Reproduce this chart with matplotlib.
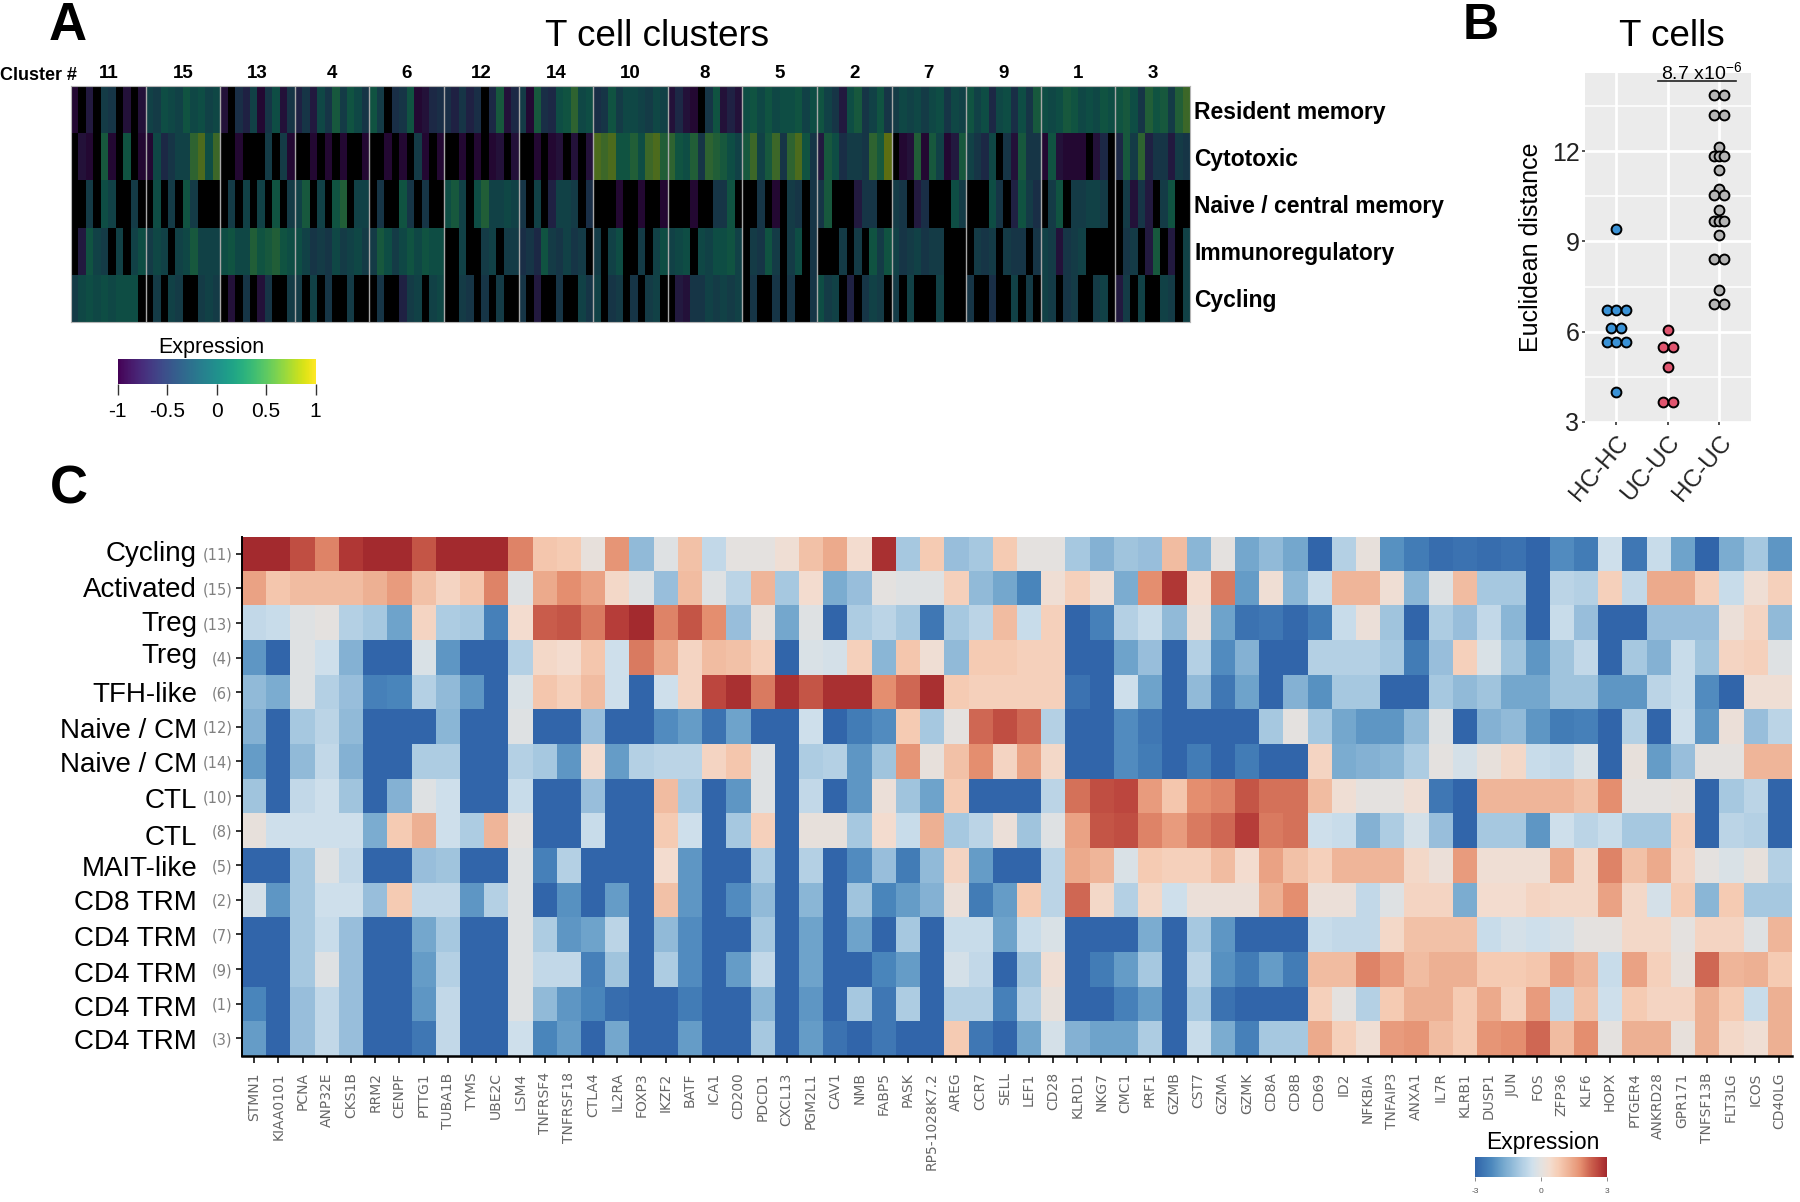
import numpy as np
import matplotlib
matplotlib.use("Agg")
import matplotlib.pyplot as plt
from matplotlib.colors import LinearSegmentedColormap, Normalize
from matplotlib.cm import ScalarMappable
from matplotlib.lines import Line2D
from matplotlib.transforms import blended_transform_factory

plt.rcParams['font.family'] = ['Liberation Sans', 'DejaVu Sans']
plt.rcParams['mathtext.default'] = 'regular'

W, H = 1800, 1202

# ---------- Panel A data (tenths of expression; -20 = no signal, drawn black) ----------
cluster_ids = ['11', '15', '13', '4', '6', '12', '14', '10', '8', '5', '2', '7', '9', '1', '3']
signatures = ['Resident memory', 'Cytotoxic', 'Naive / central memory', 'Immunoregulatory', 'Cycling']

resident_memory = [
    [-9,-20,-7,-20,-2,-3,-20,-8,-20,-8], [-1,-2,1,0,-1,2,0,1,-1,0], [-8,-20,-4,-6,-1,-9,-3,1,-8,-3],
    [-6,-3,-7,0,-3,3,-2,2,0,-3], [2,-2,-20,-4,-3,2,-9,-8,-5,-4], [-4,-6,-3,-6,-4,-20,-5,3,-8,-5],
    [-2,-9,3,-4,-5,1,2,5,0,1], [-4,-3,2,-2,0,0,-1,-2,0,-1], [-8,-5,-8,-9,-20,-3,2,-8,-6,-8],
    [1,2,0,2,0,1,1,2,-1,1], [2,-1,-3,-7,1,3,-3,-1,2,-3], [-2,0,-1,0,-2,0,1,-3,0,-1],
    [2,-1,1,-5,0,1,-4,1,-3,3], [1,0,1,3,2,0,1,0,2,1], [2,3,1,-3,4,2,3,-2,4,6]]
cytotoxic = [
    [-20,-8,-9,-20,3,-9,-20,2,-20,-9], [-9,0,-5,-3,-1,-1,5,7,1,6], [-20,-20,-9,-20,-20,-20,-2,-20,-2,-9],
    [-20,-20,-9,-20,-9,-20,-9,-20,-20,-9], [-20,-20,-9,-20,-9,-20,-2,-9,-20,-9], [-20,-20,-9,-20,-9,-20,-9,-8,-20,-8],
    [-20,-20,-9,-20,-9,-8,-20,-8,-20,-8], [7,6,7,2,2,4,1,6,7,4], [5,2,1,4,-3,5,4,3,1,-1],
    [3,6,-1,3,6,-3,5,7,2,-3], [-7,3,1,-4,-2,-2,-3,5,3,8], [-20,-9,-8,4,-9,3,-1,-9,-7,3],
    [-1,-3,-5,0,-20,-3,-8,3,-3,-3], [-9,2,-8,-9,-9,-9,-20,-8,-5,-20], [-5,3,-2,5,-6,-3,-3,-7,-2,-3]]
naive_cm = [
    [-20,-20,-2,-20,1,-1,-20,-20,-2,-20], [-20,1,-20,-2,-20,2,-2,-20,-20,-20], [-20,-2,-20,-1,-20,-1,-20,2,-20,-2],
    [-1,3,-20,-1,-20,2,4,-20,-1,-1], [-20,-3,-20,-20,2,-3,-20,-3,-20,-20], [1,3,-1,-20,1,4,-1,-1,0,-1],
    [-3,-20,-1,-20,-6,-1,-1,-2,-20,-4], [-20,-20,-20,-9,-20,-20,-9,-20,-20,-9], [-20,-20,-20,-9,-20,-20,-3,-3,2,-20],
    [-20,-20,-3,-20,-9,-20,-2,-3,-20,-3], [-3,3,-20,-20,-20,-7,-3,-3,-20,-20], [-2,-3,-20,-7,-4,-20,-20,-20,1,-2],
    [-20,-20,-20,1,-3,-20,-6,2,-2,-4], [-20,-2,2,-20,-2,-2,-1,-1,-2,-20], [-20,-2,-8,-3,-7,-20,-2,2,-20,-20]]
immunoregulatory = [
    [-20,-7,2,-1,-2,-20,-1,-20,-1,1], [-2,0,-1,-20,-1,0,3,-1,-1,-1], [1,2,0,0,4,2,3,4,2,1],
    [1,-1,-3,-2,-3,0,-2,-1,0,-2], [-2,3,1,-2,0,2,0,2,1,1], [-20,-20,-1,-20,-20,-2,-1,-20,-2,-2],
    [-4,-3,-5,2,-2,-3,-1,-3,-2,-20], [-2,-20,-1,1,-20,-20,-2,-20,-1,1], [-1,0,1,-20,0,-1,1,1,2,-1],
    [-20,-2,-3,2,-2,-20,-2,1,-20,-3], [-20,-20,-20,-2,-20,-2,-20,2,-2,2], [-1,-3,-2,-1,-3,-2,-2,-20,-20,-20],
    [-20,-2,-3,-2,-20,-2,-3,-3,-20,-3], [-1,-2,-8,-3,-2,-1,-20,-20,-20,-20], [-20,-3,-2,-20,-7,3,-20,-7,-20,-1]]
cycling_sig = [
    [-2,0,1,0,1,0,1,1,1,-20], [-20,-2,-20,-1,-2,-20,-20,-2,-1,-2], [-20,-8,-20,-3,-20,-8,-3,-20,-20,-2],
    [-2,-20,-1,-20,-3,-20,-20,-2,-20,-20], [-20,-3,-20,-20,-6,-2,-1,-20,-1,0], [-20,-20,-2,-3,-20,-3,-20,-2,-20,-20],
    [-3,-20,-7,-20,-20,-3,-20,-20,-1,-3], [-1,-20,-3,-2,-20,-3,-20,-2,-1,-20], [-20,-7,-8,-3,-3,-1,-2,-1,-2,-1],
    [-20,-3,-20,-20,-3,-20,-3,-20,-20,-3], [1,-2,-1,-20,-6,-20,-3,-1,-2,-20], [-2,-20,-1,-20,-20,-20,-1,-20,-20,-20],
    [-3,-20,-20,-4,-20,-20,-1,-20,-2,-20], [-1,-2,-20,-3,-2,-20,-20,-2,-1,-20], [-7,-2,-20,-1,-20,-20,-1,-2,-20,-1]]

# ---------- Panel B data ----------
groups = ['HC-HC', 'UC-UC', 'HC-UC']
hc_hc_y = [9.42, 6.71, 6.71, 6.71, 6.13, 6.13, 5.65, 5.65, 5.65, 4.0]
hc_hc_off = [0, -0.19, 0, 0.19, -0.1, 0.1, -0.19, 0, 0.19, 0]
uc_uc_y = [6.05, 5.49, 5.49, 4.82, 3.67, 3.67]
uc_uc_off = [0, -0.1, 0.1, 0, -0.1, 0.1]
hc_uc_y = [13.88, 13.88, 13.2, 13.2, 12.14, 11.83, 11.83, 11.83, 11.37, 10.76, 10.55, 10.55,
           10.04, 9.67, 9.67, 9.67, 9.2, 8.43, 8.43, 7.4, 6.93, 6.93]
hc_uc_off = [-0.1, 0.1, -0.1, 0.1, 0, -0.1, 0, 0.1, 0, 0, -0.1, 0.1,
             0, -0.1, 0, 0.1, 0, -0.1, 0.1, 0, -0.1, 0.1]

# ---------- Panel C data ----------
genes = ['STMN1','KIAA0101','PCNA','ANP32E','CKS1B','RRM2','CENPF','PTTG1','TUBA1B','TYMS','UBE2C','LSM4',
         'TNFRSF4','TNFRSF18','CTLA4','IL2RA','FOXP3','IKZF2','BATF','ICA1','CD200','PDCD1','CXCL13','PGM2L1',
         'CAV1','NMB','FABP5','PASK','RP5-1028K7.2','AREG','CCR7','SELL','LEF1','CD28','KLRD1','NKG7','CMC1',
         'PRF1','GZMB','CST7','GZMA','GZMK','CD8A','CD8B','CD69','ID2','NFKBIA','TNFAIP3','ANXA1','IL7R','KLRB1',
         'DUSP1','JUN','FOS','ZFP36','KLF6','HOPX','PTGER4','ANKRD28','GPR171','TNFSF13B','FLT3LG','ICOS','CD40LG']
row_names = ['Cycling','Activated','Treg','Treg','TFH-like','Naive / CM','Naive / CM','CTL','CTL','MAIT-like',
             'CD8 TRM','CD4 TRM','CD4 TRM','CD4 TRM','CD4 TRM']
row_ids = ['(11)','(15)','(13)','(4)','(6)','(12)','(14)','(10)','(8)','(5)','(2)','(7)','(9)','(1)','(3)']
row_dy = [0, 2, 1, -2, 3, 4, 4, 5, 7, 4, 3, 5, 6, 5, 4]

r_cycling = [3,3,2.5,1.9,2.8,3,3,2.4,3,3,3,1.9,0.9,0.8,0.1,1.7,-1.3,-0.1,1.0,-0.6,0,0,0.3,1.0,1.4,0.4,2.9,
             -1.0,0.8,-1.2,-1.0,0.8,0,0,-1.0,-1.5,-1.1,-1.2,1.1,-1.4,0,-1.7,-1.3,-1.7,-3,-0.8,0.1,-2.1,-2.5,-2.8,-2.7,-2.8,-2.7,-3,-2.2,-2.5,-0.4,-2.6,-0.5,-1.8,-3,-1.6,-1.0,-2.0]
r_activated = [1.5,0.9,1.1,1.1,1.1,1.3,1.6,1.0,0.6,0.9,1.9,-0.1,1.4,1.8,1.5,0.5,-0.1,-1.2,1.1,-0.1,-0.7,1.2,-1.0,0.4,-1.6,-1.2,0,
               -0.1,-0.1,0.7,-1.3,-1.7,-2.3,0.3,0.7,0.3,-1.6,1.8,2.8,0.4,2.0,-1.9,0.3,-1.4,-0.5,1.2,1.2,0.3,-1.4,-0.1,1.1,-1.0,-1.0,-3,-0.7,-0.8,0.7,-0.6,1.4,1.4,0.7,-0.5,0.3,0.7]
r_treg13 = [-0.6,-0.5,-0.1,0,-0.8,-1.0,-1.8,0.6,-0.9,-1.0,-2.4,0.4,2.3,2.4,2.0,2.7,3.0,1.9,2.4,1.8,-1.2,0.1,-1.7,-0.1,-3,-0.9,-0.7,
            -1.0,-2.6,-1.0,-0.7,1.1,-0.5,0.7,-3,-2.4,-0.8,-0.5,-1.3,0.2,-1.8,-2.7,-2.6,-2.9,-2.5,-0.5,0.2,-1.1,-3,-0.9,-1.2,-0.6,-1.4,-3,-0.5,-1.2,-3,-3,-1.2,-1.2,-1.2,0.2,0.6,-1.3]
r_treg4 = [-2.0,-3,-0.1,-0.4,-1.5,-3,-3,-0.2,-2.0,-3,-3,-0.8,0.5,0.4,0.9,-0.4,2.0,1.4,0.6,1.1,1.0,0.7,-3,-0.2,-0.3,0.7,-1.4,
           0.9,0.3,-1.3,0.8,0.8,0.7,0.7,-3,-3,-1.8,-1.2,-3,-0.8,-2.2,-1.5,-3,-3,-0.8,-0.8,-0.8,-1.0,-2.5,-1.2,0.7,-0.2,-1.1,-2.0,-1.1,-0.6,-3,-1.0,-1.5,-0.5,-1.1,0.6,0.7,-0.1]
r_tfh = [-1.3,-1.6,-0.1,-0.8,-1.2,-2.4,-2.3,-0.8,-1.3,-2.0,-3,-0.2,0.9,0.7,1.1,-0.4,-3,-0.4,0.6,2.6,2.9,2.0,2.9,2.4,2.9,2.9,1.8,
         2.2,2.9,0.8,0.7,0.7,0.7,0.7,-2.7,-3,-0.4,-1.8,-3,-1.3,-2.6,-1.8,-3,-1.5,-2.1,-1.0,-1.0,-3,-3,-1.0,-1.3,-1.1,-1.7,-1.7,-1.1,-1.1,-2.0,-2.0,-0.7,-0.5,-2.2,-3,0.3,0.3]
r_naive12 = [-1.5,-3,-1.0,-0.7,-1.3,-3,-3,-3,-1.4,-3,-3,-0.1,-3,-3,-1.2,-3,-3,-2.2,-1.9,-2.7,-1.8,-3,-3,-0.4,-3,-2.5,-2.2,
             0.8,-1.0,0,2.2,2.5,2.2,-0.8,-3,-3,-2.2,-2.6,-3,-3,-3,-3,-1.0,0,-1.0,-1.7,-2.0,-2.0,-1.3,-0.1,-3,-1.5,-1.3,-2.0,-2.5,-2.4,-3,-0.8,-3,-0.4,-2.0,0.2,-1.2,-0.7]
r_naive14 = [-1.9,-3,-1.3,-0.6,-1.5,-3,-3,-0.9,-0.9,-3,-3,-0.8,-1.0,-2.0,0.4,-1.9,-0.8,-0.7,-0.7,0.6,0.9,-0.1,-3,-0.9,-0.8,-2.0,-1.1,
             1.7,0.1,1.0,1.8,0.6,1.5,0.5,-3,-3,-2.2,-2.5,-3,-2.5,-3,-2.5,-3,-3,0.6,-1.6,-1.5,-1.4,-0.9,0,-0.3,0.1,0.5,-0.5,-0.6,-0.2,-3,0.1,-1.9,-1.2,0,0,1.2,1.2]
r_ctl10 = [-1.1,-3,-0.6,-0.4,-1.1,-3,-1.5,-0.1,-0.4,-3,-3,-0.5,-3,-3,-1.2,-3,-3,1.1,-1.0,-3,-2.0,-0.1,-3,-0.6,-3,-2.0,0.2,
           -1.1,-1.8,0.8,-3,-3,-3,-0.7,2.1,2.5,2.6,1.6,0.9,1.8,1.9,2.4,2.1,2.1,1.1,0.3,0,0,0.3,-2.6,-3,1.2,1.2,1.2,1.2,1.0,1.8,0,0,0.1,-3,-1.0,-0.7,-3]
r_ctl8 = [0.1,-0.4,-0.4,-0.4,-0.4,-1.6,0.8,1.3,-0.4,-0.9,1.2,0,-3,-3,-0.5,-3,-3,0.8,-0.4,-3,-1.0,0.7,-3,0.1,0.1,-1.0,0.4,
          -0.5,1.3,-1.0,-0.7,0.2,-1.1,-0.1,1.5,2.4,2.5,1.9,1.6,2.0,2.2,2.7,2.0,2.1,-0.4,-0.5,-1.5,-0.9,-0.3,-1.2,-3,-1.0,-1.0,-2.0,-0.4,-0.7,-0.5,-1.0,-1.0,0.7,-3,-0.7,-0.8,-3]
r_mait = [-3,-3,-1.0,-0.1,-0.6,-3,-3,-1.2,-1.1,-3,-3,-0.1,-2.4,-0.8,-3,-3,-3,0.4,-2.0,-3,-3,-0.9,-3,-0.8,-3,-2.2,-1.2,
          -2.5,-1.3,0.6,-1.9,-3,-3,-0.7,1.4,1.2,-0.2,0.8,0.7,0.7,1.1,0.4,1.5,1.0,0.7,1.2,1.2,1.2,0.5,0.2,1.6,0.3,0.3,0.3,1.4,0.5,1.9,1.0,1.4,0.6,0,-0.2,0.1,-0.8]
r_cd8 = [-0.3,-2.0,-1.0,-0.4,-0.4,-1.2,0.8,-0.6,-0.6,-2.0,-0.8,-0.1,-3,-2.1,-3,-1.9,-3,1.0,-2.0,-3,-2.2,-1.3,-3,-1.4,-3,-1.1,-2.3,
         -1.9,-1.5,0.2,-2.5,-1.9,0.8,-0.7,2.2,0.5,-0.8,0.5,-0.4,0.2,0.2,0.2,1.3,1.8,0.2,0.2,-0.6,-0.1,0.6,0.6,-1.6,0.4,0.4,0.6,0.5,0.5,1.5,0.5,-0.3,0.8,-1.4,0.8,-1.0,-1.0]
r_cd4_7 = [-3,-3,-1.0,-0.5,-1.2,-3,-3,-1.7,-1.0,-3,-3,-0.1,-0.9,-2.0,-1.8,-0.7,-3,-1.3,-2.2,-3,-3,-1.0,-3,-1.8,-3,-1.8,-3,
           -1.0,-3,-0.5,-0.5,-1.8,-0.5,-0.2,-3,-3,-3,-1.6,-3,-1.0,-2.0,-3,-3,-3,-0.5,-0.6,-0.6,0.5,1.0,1.0,1.0,-0.5,-0.3,-0.4,-0.3,0,0,0.5,0.5,0,0.6,0.6,-0.1,1.2]
r_cd4_9 = [-3,-3,-1.0,-0.1,-1.2,-3,-3,-1.9,-0.8,-3,-3,-0.1,-0.6,-0.6,-2.4,-1.1,-3,-0.9,-2.2,-3,-1.9,-0.6,-3,-1.8,-3,-3,-2.3,
           -1.9,-3,-0.3,-0.6,-3,-1.1,0.3,-3,-2.5,-1.9,-1.0,-3,-0.7,-2.1,-2.5,-1.9,-2.5,1.1,1.1,1.9,1.6,1.1,1.3,1.3,0.8,0.8,0.9,1.5,1.2,-0.5,1.5,0.7,0.1,2.2,1.2,1.3,0.8]
r_cd4_1 = [-2.3,-3,-1.2,-0.6,-1.2,-3,-3,-2.0,-0.6,-3,-3,-0.1,-1.3,-2.0,-2.3,-2.8,-3,-3,-2.5,-3,-3,-1.4,-3,-2.0,-3,-1.0,-2.6,
           -0.9,-3,-0.8,-0.8,-2.4,-0.8,0.1,-3,-3,-2.4,-1.9,-3,-1.0,-2.7,-3,-3,-3,0.7,0,-0.8,0.8,1.3,1.3,0.8,1.4,0.7,1.6,-0.6,1.0,-0.4,0.8,0.6,0.6,1.3,0.8,-0.5,1.3]
r_cd4_3 = [-1.9,-3,-1.2,-0.6,-1.2,-3,-3,-2.6,-0.6,-3,-3,-0.4,-2.3,-1.9,-3,-1.7,-3,-3,-1.9,-3,-3,-1.0,-3,-1.9,-2.7,-3,-2.6,
           -3,-3,0.8,-2.6,-3,-1.7,-0.3,-1.5,-1.8,-1.8,-0.9,-3,-0.5,-1.6,-2.4,-1.0,-1.0,1.4,0.7,0.3,1.6,1.7,1.1,0.8,1.7,1.8,2.2,1.1,1.8,0,1.3,1.3,0.1,1.3,0.5,0.3,1.3]

# ---------- Layout helpers ----------
fig = plt.figure(figsize=(W / 100, H / 100), dpi=100, facecolor='white')


def axes_px(l, t, r, b):
    return fig.add_axes([l / W, 1 - b / H, (r - l) / W, (b - t) / H])


def text_px(x, y, s, **kw):
    kw.setdefault('ha', 'center')
    kw.setdefault('va', 'center')
    return fig.text(x / W, 1 - y / H, s, **kw)


# ---------- Panel A ----------
ax_a = axes_px(71, 86, 1190, 322)
rows_a = [resident_memory, cytotoxic, naive_cm, immunoregulatory, cycling_sig]
mat_a = np.array([np.concatenate(r) for r in rows_a], dtype=float) / 10
vir = plt.get_cmap('viridis').copy()
vir.set_under('black')
ax_a.set_facecolor('black')
ax_a.imshow(mat_a, aspect='auto', cmap=vir, vmin=-1, vmax=1, alpha=0.5,
            interpolation='nearest', extent=(0, len(cluster_ids), len(rows_a), 0))
for i in range(1, len(cluster_ids)):
    ax_a.axvline(i, color='#a8a8a8', lw=1.0)
for s in ax_a.spines.values():
    s.set_color('#b5b5b5')
    s.set_linewidth(0.8)
ax_a.set_xticks(np.arange(len(cluster_ids)) + 0.5)
ax_a.set_xticklabels(cluster_ids, fontsize=13.5, fontweight='bold')
ax_a.tick_params(axis='x', top=True, bottom=False, labeltop=True, labelbottom=False, length=0, pad=3)
ax_a.set_yticks(np.arange(len(signatures)) + 0.5)
ax_a.set_yticklabels(signatures, fontsize=16.5, fontweight='bold')
ax_a.get_yticklabels()[3].set_fontsize(18.5)
ax_a.tick_params(axis='y', right=True, left=False, labelright=True, labelleft=False, length=0, pad=3)
text_px(0, 75, 'Cluster #', ha='left', fontsize=13, fontweight='bold')
text_px(657, 36, 'T cell clusters', fontsize=26.5)
text_px(68, 26, 'A', fontsize=38, fontweight='bold')

text_px(211, 347, 'Expression', fontsize=15.5)
cax_a = axes_px(117.5, 359, 315.5, 384)
cb_a = fig.colorbar(ScalarMappable(Normalize(-1, 1), 'viridis'), cax=cax_a, orientation='horizontal',
                    ticks=[-1, -0.5, 0, 0.5, 1])
cb_a.ax.set_xticklabels(['-1', '-0.5', '0', '0.5', '1'], fontsize=15)
cb_a.ax.tick_params(length=8, width=1, pad=5, color='#333333')
cb_a.outline.set_visible(False)

# ---------- Panel B ----------
ax_b = axes_px(1585, 73.3, 1751, 421.7)
ax_b.set_facecolor('#ebebeb')
ax_b.set_xlim(-0.61, 2.62)
ax_b.set_ylim(3.03, 14.6)
ax_b.set_axisbelow(True)
ax_b.set_yticks([3, 6, 9, 12])
ax_b.set_yticks([4.5, 7.5, 10.5, 13.5], minor=True)
ax_b.set_xticks(range(3))
ax_b.set_xticklabels(groups, fontsize=17.5, rotation=50, ha='right', va='top', rotation_mode='anchor')
ax_b.set_yticklabels(['3', '6', '9', '12'], fontsize=18, color='#222222')
ax_b.grid(True, which='major', color='white', lw=2)
ax_b.grid(True, which='minor', axis='y', color='white', lw=1.1)
ax_b.tick_params(axis='both', which='major', length=2, width=1.2, color='#333333', pad=2)
ax_b.tick_params(axis='x', pad=5, labelcolor='#222222')
ax_b.tick_params(axis='y', which='minor', length=0)
for s in ax_b.spines.values():
    s.set_visible(False)
ax_b.set_ylabel('Euclidean distance', fontsize=18, labelpad=6)
for i, (ys, off, col) in enumerate([(hc_hc_y, hc_hc_off, '#3a92d6'),
                                    (uc_uc_y, uc_uc_off, '#e0556f'),
                                    (hc_uc_y, hc_uc_off, '#b5b5b5')]):
    ax_b.scatter(i + np.array(off), ys, s=50, c=col, edgecolors='black', linewidths=1.4, zorder=3, clip_on=False)
fig.add_artist(Line2D([1658 / W, 1736 / W], [1 - 80.7 / H, 1 - 80.7 / H], color='#222222', lw=1.2))
text_px(1702, 72, r'8.7 x10$^{-6}$', fontsize=14)
text_px(1672, 36, 'T cells', fontsize=26.5)
text_px(1481, 26, 'B', fontsize=36, fontweight='bold')

# ---------- Panel C ----------
cols = [(-3, '#3165aa'), (-2.3, '#4a86bc'), (-1.8, '#6ea3cb'), (-1.3, '#92bbd9'), (-0.8, '#b5d1e5'),
        (-0.4, '#cfe0ec'), (0, '#e4e2e0'), (0.4, '#f3ddd0'), (0.8, '#f6ccb4'), (1.3, '#eeb194'),
        (1.8, '#e58f70'), (2.3, '#ca5e4c'), (2.7, '#b83f3a'), (3, '#a32a2e')]
cm_c = LinearSegmentedColormap.from_list('expr', [((v + 3) / 6, c) for v, c in cols])
rows_c = [r_cycling, r_activated, r_treg13, r_treg4, r_tfh, r_naive12, r_naive14, r_ctl10, r_ctl8, r_mait,
          r_cd8, r_cd4_7, r_cd4_9, r_cd4_1, r_cd4_3]
ax_c = axes_px(242, 536.5, 1791.5, 1055.6)
ax_c.imshow(np.array(rows_c), aspect='auto', cmap=cm_c, vmin=-3, vmax=3, interpolation='nearest')
ax_c.set_xticks(range(len(genes)))
ax_c.set_xticklabels(genes, rotation=90, fontsize=10, color='#666666', family='DejaVu Sans')
ax_c.set_yticks(range(len(row_ids)))
ax_c.set_yticklabels(row_ids, fontsize=10.5, color='#808080', family='DejaVu Sans')
ax_c.tick_params(axis='x', length=5, width=1.3, pad=7, color='#222222')
ax_c.tick_params(axis='y', length=4, width=1.3, pad=3, color='#222222')
ax_c.spines['top'].set_visible(False)
ax_c.spines['right'].set_visible(False)
ax_c.spines['left'].set_linewidth(1.4)
ax_c.spines['bottom'].set_linewidth(1.8)
tr = blended_transform_factory(fig.transFigure, ax_c.transData)
for i, (name, dy) in enumerate(zip(row_names, row_dy)):
    ax_c.text(197 / W, i + dy / 34.6, name, transform=tr, ha='right', va='center', fontsize=20, clip_on=False)
text_px(69, 489, 'C', fontsize=38, fontweight='bold')

text_px(1543, 1142, 'Expression', fontsize=16.5)
cax_c = axes_px(1475, 1157, 1607, 1177)
cb_c = fig.colorbar(ScalarMappable(Normalize(-3, 3), cm_c), cax=cax_c, orientation='horizontal', ticks=[-3, 0, 3])
cb_c.ax.set_xticklabels(['-3', '0', '3'], fontsize=6, color='#555555')
cb_c.ax.tick_params(length=3, width=0.6, pad=5, color='#777777')
cb_c.outline.set_visible(False)

fig.savefig('out.png', dpi=100, facecolor='white')
